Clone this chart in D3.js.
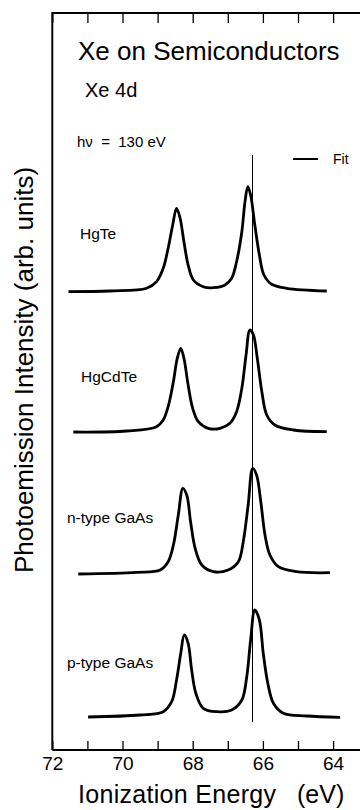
<!DOCTYPE html>
<html>
<head>
<meta charset="utf-8">
<script src="https://cdn.jsdelivr.net/npm/d3@7"></script>
<style>
  body { margin: 0; background: #fff; }
  svg { display: block; }
</style>
</head>
<body>
<div id="chart"></div>
<script>
// energy axis (eV), ticks every 1 eV, labels every 2 eV
const energyTicks = [72, 71, 70, 69, 68, 67, 66, 65, 64];
const tickLabels = ["72", "70", "68", "66", "64"];

// samples, top to bottom, and their vertical offsets (arb. units)
const samples = ["HgTe", "HgCdTe", "n-type GaAs", "p-type GaAs"];
const offsets = [458, 318, 177, 33];

// Xe 4d spectra: [ionization energy (eV), intensity (arb. units)]
const hgTe = [
  [71.54, 0.3], [70.36, 1], [69.31, 3.7], [69.03, 10.3], [68.84, 23.7], [68.70, 43.7],
  [68.57, 67], [68.46, 83.7], [68.36, 74], [68.25, 50.3], [68.13, 27], [67.98, 12],
  [67.70, 5.3], [67.41, 4.3], [67.08, 7], [66.89, 13.7], [66.75, 30.3], [66.60, 60.3],
  [66.51, 90.3], [66.43, 105.3], [66.35, 97], [66.23, 67], [66.10, 37], [65.97, 17],
  [65.75, 7.7], [65.32, 3.7], [64.18, 1]
];
const hgCdTe = [
  [71.40, 0], [69.88, 1], [69.03, 5.3], [68.84, 12], [68.70, 25.3], [68.55, 50.3],
  [68.44, 73.7], [68.34, 83.7], [68.25, 73.7], [68.13, 47], [68.00, 23.7], [67.84, 10.3],
  [67.56, 3.7], [67.22, 3.7], [66.94, 8.7], [66.75, 20.3], [66.60, 43.7], [66.48, 77],
  [66.37, 102], [66.27, 97], [66.16, 73.7], [66.03, 40.3], [65.89, 17], [65.66, 7],
  [65.13, 2], [64.18, 0.3]
];
const nGaAs = [
  [71.26, -1], [69.60, 0.7], [68.93, 3], [68.70, 11.3], [68.55, 28], [68.41, 58],
  [68.28, 84.7], [68.17, 78], [68.06, 51.3], [67.93, 24.7], [67.74, 8], [67.41, 1.3],
  [66.99, 3], [66.70, 11.3], [66.56, 31.3], [66.42, 68], [66.29, 104.7], [66.18, 98],
  [66.06, 71.3], [65.94, 38], [65.80, 18], [65.56, 6.3], [65.04, 1.3], [64.09, 0.3]
];
const pGaAs = [
  [70.98, 0], [69.50, 2], [68.84, 5.3], [68.60, 15.3], [68.46, 37], [68.34, 63.7],
  [68.24, 82], [68.13, 73.7], [68.03, 47], [67.91, 23.7], [67.70, 8.7], [67.32, 5.3],
  [66.89, 7], [66.60, 17], [66.46, 40.3], [66.35, 77], [66.23, 107], [66.10, 97],
  [65.99, 63.7], [65.86, 33.7], [65.70, 13.7], [65.42, 3.7], [64.75, 1], [63.80, -0.3]
];
const spectra = [hgTe, hgCdTe, nGaAs, pGaAs];

// reference line position (eV) and extent (arb. units)
const refEnergy = 66.31;
const refRange = [28, 595];

const width = 360;
const height = 810;
const font = "'Liberation Sans', Arial, Helvetica, sans-serif";

const x = d3.scaleLinear().domain([72, 63]).range([52.3, 368.2]);
const y = d3.scaleLinear().domain([0, 737]).range([750, 13]);

const svg = d3.select("#chart").append("svg")
  .attr("width", width)
  .attr("height", height)
  .style("font-family", font);

// frame: left and top edges (right edge falls outside the picture)
svg.append("path")
  .attr("d", `M${x(72)},${y(0)}V${y(737)}H${width + 10}`)
  .attr("fill", "none")
  .attr("stroke", "#000")
  .attr("stroke-width", 2);

// bottom axis, ticks pointing inward
const xAxis = svg.append("g")
  .attr("transform", `translate(0,${y(0)})`)
  .call(d3.axisBottom(x)
    .tickValues(energyTicks)
    .tickSizeInner(-9)
    .tickSizeOuter(0)
    .tickPadding(6.5)
    .tickFormat(d => tickLabels.includes(String(d)) ? d : ""));
xAxis.select(".domain").attr("stroke-width", 2).attr("d", `M${x(72)},0H${width + 10}`);
xAxis.selectAll(".tick line").attr("stroke-width", 1.3);
xAxis.selectAll(".tick text")
  .attr("font-size", 19)
  .attr("font-family", font)
  .attr("fill", "#000");

// top axis, ticks only
const topAxis = svg.append("g")
  .attr("transform", `translate(0,${y(737)})`)
  .call(d3.axisTop(x)
    .tickValues(energyTicks)
    .tickSizeInner(-10)
    .tickSizeOuter(0)
    .tickFormat(""));
topAxis.select(".domain").remove();
topAxis.selectAll(".tick line").attr("stroke-width", 1.3);

// reference line (snapped to the pixel grid so it stays crisp)
const refX = Math.round(x(refEnergy)) + 0.5;
svg.append("line")
  .attr("x1", refX).attr("x2", refX)
  .attr("y1", y(refRange[1])).attr("y2", y(refRange[0]))
  .attr("stroke", "#000")
  .attr("stroke-width", 1);

// spectra
const line = d3.line()
  .x(d => x(d[0]))
  .curve(d3.curveCatmullRom.alpha(0.5));

svg.append("g")
  .selectAll("path")
  .data(spectra)
  .join("path")
  .attr("d", (d, i) => line.y(p => y(p[1] + offsets[i]))(d))
  .attr("fill", "none")
  .attr("stroke", "#000")
  .attr("stroke-width", 2.8)
  .attr("stroke-linejoin", "round");

// sample labels
const labelPos = [[80, 239], [81, 382], [67, 523], [67, 668]];
svg.append("g")
  .selectAll("text")
  .data(samples)
  .join("text")
  .attr("x", (d, i) => labelPos[i][0])
  .attr("y", (d, i) => labelPos[i][1])
  .attr("font-size", 15.5)
  .text(d => d);

// titles and annotations
svg.append("text")
  .attr("x", 78).attr("y", 60)
  .attr("font-size", 26)
  .text("Xe on Semiconductors");

svg.append("text")
  .attr("x", 85).attr("y", 97)
  .attr("font-size", 20)
  .text("Xe 4d");

svg.append("text")
  .attr("x", 77).attr("y", 147)
  .attr("font-size", 15)
  .attr("xml:space", "preserve")
  .style("white-space", "pre")
  .text("hν  =  130 eV");

// legend
svg.append("line")
  .attr("x1", 293).attr("x2", 318)
  .attr("y1", 159).attr("y2", 159)
  .attr("stroke", "#000")
  .attr("stroke-width", 2);
svg.append("text")
  .attr("x", 333).attr("y", 164)
  .attr("font-size", 14)
  .text("Fit");

// axis titles
svg.append("text")
  .attr("x", 78).attr("y", 803)
  .attr("font-size", 25)
  .attr("letter-spacing", 0.3)
  .text("Ionization Energy");
svg.append("text")
  .attr("x", 297).attr("y", 803)
  .attr("font-size", 25)
  .text("(eV)");

svg.append("text")
  .attr("transform", "translate(33,370) rotate(-90)")
  .attr("text-anchor", "middle")
  .attr("font-size", 26)
  .text("Photoemission Intensity (arb. units)");
</script>
</body>
</html>
